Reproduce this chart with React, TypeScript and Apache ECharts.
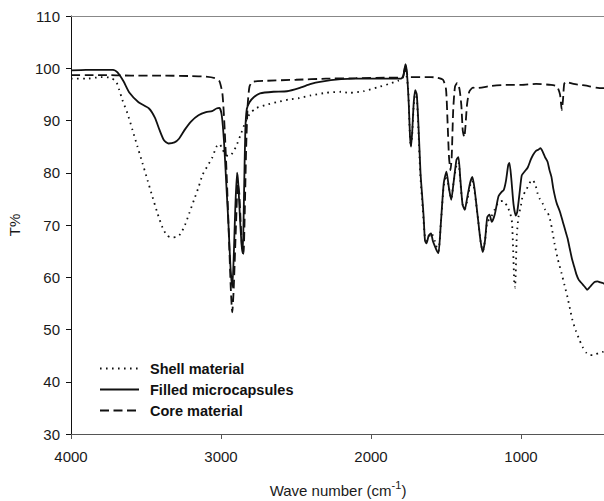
import React, { useEffect, useRef } from "react";
import * as echarts from "echarts";

// Tick values
const yTicks = [30, 40, 50, 60, 70, 80, 90, 100, 110];
const xTicks = [4000, 3000, 2000, 1000];

const seriesNames = ["Shell material", "Filled microcapsules", "Core material"];

// Shell material (dotted)
const shellWn = [4000, 3900, 3800, 3740, 3700, 3680, 3657, 3624, 3590, 3557, 3524, 3490, 3457, 3424, 3390, 3360, 3330, 3298, 3270, 3240, 3211, 3180, 3150, 3123, 3090, 3060, 3030, 3010, 2990, 2970, 2950, 2930, 2900, 2870, 2840, 2810, 2770, 2700, 2630, 2550, 2477, 2400, 2300, 2200, 2143, 2050, 1950, 1880, 1820, 1790, 1775, 1765, 1752, 1742, 1735, 1726, 1715, 1705, 1695, 1685, 1672, 1660, 1650, 1640, 1630, 1615, 1600, 1588, 1575, 1560, 1550, 1535, 1515, 1497, 1480, 1465, 1450, 1430, 1417, 1405, 1390, 1375, 1360, 1340, 1324, 1310, 1290, 1270, 1255, 1240, 1225, 1200, 1175, 1150, 1120, 1090, 1070, 1060, 1052, 1045, 1040, 1035, 1028, 1017, 1000, 990, 970, 955, 935, 923, 905, 890, 875, 857, 840, 825, 810, 795, 777, 755, 730, 710, 690, 670, 657, 635, 610, 590, 563, 540, 523, 500, 480, 457, 430];
const shellT = [98, 98, 98.3, 98.2, 97.5, 96, 93.9, 91.4, 88.2, 85, 81.9, 78.6, 75.4, 72.3, 69.5, 68, 67.6, 67.7, 68.3, 70, 72.3, 74.8, 77.2, 79.6, 81.3, 82.8, 85, 85.5, 84.5, 83.4, 83.2, 83.5, 85, 87.2, 89.5, 91.2, 92.3, 93, 93.5, 94, 94.3, 94.8, 95.3, 95.5, 95.3, 95.6, 96.4, 97, 97.6, 98, 100, 99, 96, 88, 85, 87, 93, 95, 94.5, 89, 80, 75, 71, 67.5, 67, 67.5, 68.5, 68, 67, 65.5, 65, 70, 77.5, 79.5, 77, 75, 78, 81.5, 82, 78.5, 74, 73, 74.5, 77.5, 78.5, 76.5, 72, 67, 65, 67, 70.5, 71.5, 73, 74.4, 74.6, 73.5, 72, 70.5, 65, 59, 58, 61, 68, 71.5, 73.8, 75.4, 76.5, 77.3, 78.4, 78.6, 77.8, 76.1, 75, 74.2, 73, 72.5, 71.5, 69.5, 66.5, 63.5, 60.8, 58.5, 56.2, 53.5, 51.8, 49.8, 48, 46.7, 45.5, 45.1, 45.1, 45.3, 45.5, 45.7, 45.8];

// Filled microcapsules (solid)
const filledWn = [4000, 3900, 3800, 3720, 3690, 3650, 3610, 3550, 3480, 3440, 3410, 3380, 3350, 3310, 3280, 3240, 3200, 3150, 3100, 3060, 3030, 3010, 2995, 2980, 2965, 2950, 2937, 2925, 2915, 2905, 2893, 2885, 2873, 2862, 2855, 2847, 2838, 2828, 2810, 2780, 2740, 2650, 2560, 2480, 2400, 2340, 2200, 2100, 2000, 1900, 1800, 1785, 1770, 1760, 1748, 1740, 1733, 1725, 1715, 1705, 1695, 1685, 1670, 1660, 1650, 1640, 1630, 1615, 1600, 1588, 1575, 1560, 1550, 1535, 1515, 1497, 1480, 1465, 1450, 1430, 1417, 1405, 1390, 1375, 1360, 1340, 1324, 1310, 1290, 1270, 1255, 1240, 1225, 1210, 1195, 1175, 1150, 1130, 1115, 1100, 1085, 1077, 1065, 1050, 1035, 1025, 1010, 995, 977, 955, 935, 920, 900, 885, 870, 855, 840, 823, 810, 797, 785, 770, 760, 740, 720, 705, 690, 675, 660, 645, 630, 615, 600, 585, 570, 560, 545, 530, 510, 490, 470, 455, 430];
const filledT = [99.6, 99.7, 99.7, 99.7, 99.2, 97.5, 95.3, 93.5, 92.3, 90.5, 88.2, 86.2, 85.6, 85.8, 86.5, 88.3, 89.8, 91, 91.6, 91.8, 92.3, 92.4, 91, 86, 78, 70, 62, 58, 64, 73, 80, 78, 71, 66, 64.6, 75, 88, 92.2, 93.5, 94.5, 95.2, 95.5, 95.6, 96.2, 97, 97.4, 97.9, 98, 98, 98, 98, 98.5, 100.8, 99, 93, 87, 85, 88, 93.5, 95.8, 95, 90, 80, 76, 72, 67, 66.5, 68, 68.4, 67, 66, 65, 64.6, 70, 78, 80.2, 77, 74.8, 78, 82.5, 83, 79, 74, 72.9, 75, 78, 79.2, 77, 72, 67, 64.8, 67, 71.5, 72, 70.6, 72, 75.5, 76.3, 76.7, 78.5, 81.5, 81.9, 79, 74, 71.8, 72.5, 76, 79.5, 80.2, 81, 82.5, 83.4, 84.2, 84.4, 84.7, 84, 83, 82.1, 80.5, 79.2, 77, 75, 74, 72.5, 70.5, 69, 67.5, 65.5, 63.5, 62, 60.5, 59.5, 59, 58.5, 58, 57.6, 58, 58.5, 59.1, 59.2, 59, 58.9, 58.5];

// Core material (dashed)
const coreWn = [4000, 3900, 3800, 3600, 3400, 3200, 3100, 3040, 3010, 2990, 2975, 2960, 2945, 2935, 2925, 2915, 2900, 2888, 2878, 2868, 2858, 2850, 2842, 2832, 2822, 2810, 2790, 2700, 2500, 2300, 2100, 1900, 1800, 1785, 1770, 1760, 1740, 1600, 1560, 1520, 1500, 1490, 1480, 1470, 1462, 1452, 1440, 1425, 1410, 1398, 1388, 1378, 1370, 1360, 1345, 1320, 1298, 1200, 1100, 1000, 900, 800, 760, 740, 728, 720, 712, 700, 650, 600, 550, 500, 450, 430];
const coreT = [98.7, 98.7, 98.7, 98.6, 98.6, 98.5, 98.4, 98.1, 97.5, 95, 88, 78, 66, 58, 53.3, 58, 70, 78, 76, 70, 65, 64.5, 72, 85, 93, 96.5, 97.4, 97.6, 97.8, 98, 98.1, 98.2, 98.2, 98.5, 100.6, 99, 98.3, 98.3, 98.2, 97.8, 96, 90, 83, 80.5, 83, 92, 96.5, 97.2, 96, 93, 88, 86.8, 89, 93, 95.5, 96.3, 96.2, 96.6, 96.8, 96.8, 97, 96.8, 96.5, 95, 92, 94, 97, 97.4, 97, 96.8, 96.6, 96.3, 96.2, 96.2];

const zip = (xs: number[], ys: number[]) => xs.map((x, i) => [x, ys[i]]);

const FONT = "'Liberation Sans', Arial, sans-serif";
const INK = "#111";

export default function App() {
  const ref = useRef<HTMLDivElement>(null);
  useEffect(() => {
    if (!ref.current) return;
    const chart = echarts.init(ref.current, undefined, { renderer: "svg" });
    const lineCommon = {
      type: "line" as const,
      symbol: "none",
      smooth: 0.2,
      clip: true,
      xAxisIndex: 0,
      yAxisIndex: 0,
    };
    chart.setOption({
      animation: false,
      backgroundColor: "#fff",
      grid: {
        left: 71,
        top: 16,
        width: 600,
        height: 418,
        containLabel: false,
        outerBoundsMode: "none",
      },
      legend: {
        orient: "vertical",
        left: 99,
        top: 361,
        padding: 0,
        itemWidth: 39,
        itemHeight: 14,
        itemGap: 6,
        data: seriesNames,
        itemStyle: { opacity: 0 },
        textStyle: {
          fontFamily: FONT,
          fontSize: 14.5,
          fontWeight: "bold",
          color: INK,
          lineHeight: 14,
          padding: [0, 0, 0, 6],
        },
      },
      xAxis: [
        {
          type: "value",
          inverse: true,
          min: 0,
          max: 4000,
          interval: 1000,
          axisLine: { show: true, onZero: false, lineStyle: { color: "#555", width: 1 } },
          axisTick: { show: true, inside: false, length: 5, lineStyle: { color: "#555" } },
          axisLabel: {
            show: true,
            margin: 15,
            fontFamily: FONT,
            fontSize: 15,
            color: "#1a1a1a",
            formatter: (v: number) => (xTicks.includes(v) ? String(v) : ""),
          },
          splitLine: { show: false },
        },
        {
          type: "value",
          position: "top",
          inverse: true,
          min: 0,
          max: 4000,
          interval: 1000,
          axisLine: { show: true, onZero: false, lineStyle: { color: "#888", width: 1 } },
          axisTick: { show: false },
          axisLabel: { show: false },
          splitLine: { show: false },
        },
      ],
      yAxis: {
        type: "value",
        min: yTicks[0],
        max: yTicks[yTicks.length - 1],
        interval: 10,
        axisLine: { show: true, onZero: false, lineStyle: { color: "#111", width: 1 } },
        axisTick: { show: true, inside: false, length: 5, lineStyle: { color: "#111" } },
        axisLabel: {
          margin: 11,
          fontFamily: FONT,
          fontSize: 15,
          color: "#1a1a1a",
        },
        splitLine: { show: false },
      },
      graphic: [
        {
          type: "text",
          x: 14.5,
          y: 225,
          rotation: Math.PI / 2,
          style: {
            text: "T%",
            fontFamily: FONT,
            fontSize: 15,
            fill: "#1a1a1a",
            align: "center",
            verticalAlign: "middle",
          },
        },
        {
          type: "text",
          x: 338,
          y: 490,
          style: {
            text: "{a|Wave number (cm}{b|-1}{a|)}",
            align: "center",
            verticalAlign: "middle",
            fill: "#1a1a1a",
            rich: {
              a: { fontFamily: FONT, fontSize: 15, lineHeight: 22, fill: "#1a1a1a", verticalAlign: "middle" },
              b: { fontFamily: FONT, fontSize: 11, lineHeight: 10, fill: "#1a1a1a", verticalAlign: "top" },
            },
          },
        },
      ],
      series: [
        {
          ...lineCommon,
          name: seriesNames[0],
          data: zip(shellWn, shellT),
          lineStyle: { color: INK, width: 1.8, type: [1.6, 4.4], cap: "butt" },
          itemStyle: { color: INK },
          z: 2,
        },
        {
          ...lineCommon,
          name: seriesNames[1],
          data: zip(filledWn, filledT),
          lineStyle: { color: INK, width: 1.8, type: "solid" },
          itemStyle: { color: INK },
          z: 3,
        },
        {
          ...lineCommon,
          name: seriesNames[2],
          data: zip(coreWn, coreT),
          lineStyle: { color: INK, width: 1.8, type: [9, 4.5] },
          itemStyle: { color: INK },
          z: 4,
        },
      ],
    });
    return () => chart.dispose();
  }, []);
  return (
    <div
      ref={ref}
      style={{ position: "fixed", left: 0, top: 0, width: 604, height: 501, background: "#fff" }}
    />
  );
}
